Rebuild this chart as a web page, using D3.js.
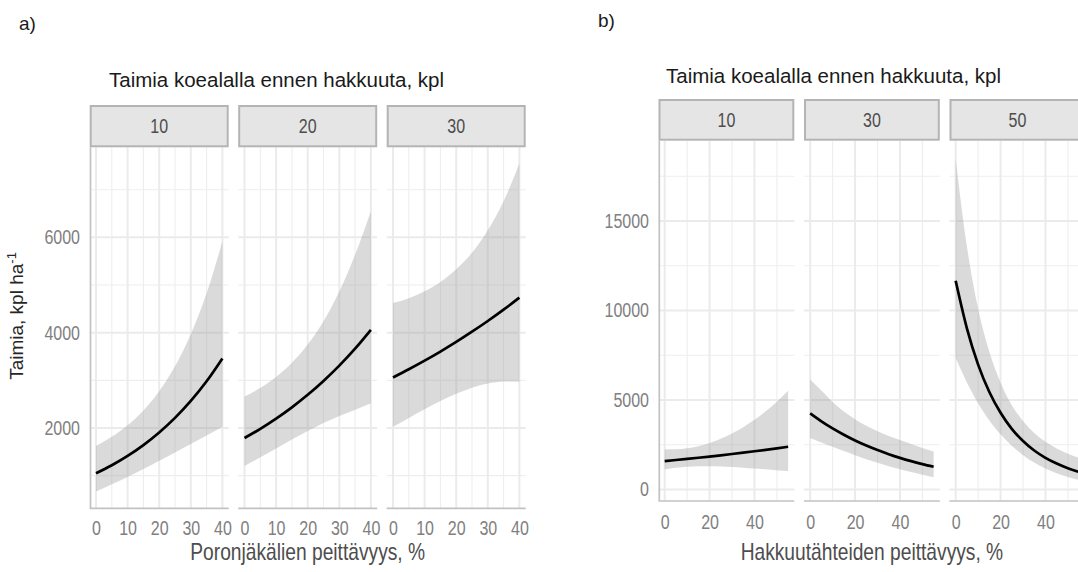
<!DOCTYPE html>
<html><head><meta charset="utf-8">
<script src="https://cdn.jsdelivr.net/npm/d3@7"></script>
<style>body{margin:0;background:#fff} svg{display:block}</style>
</head><body>
<svg id="chart" width="1078" height="572"></svg>
<script>
// ---------- data ----------
const facetTitle = "Taimia koealalla ennen hakkuuta, kpl";
const yTitle = "Taimia, kpl ha";
const yTitleSup = "-1";

// a) Poronjäkälien peittävyys
const leftTag = "a)";
const leftXTitle = "Poronjäkälien peittävyys, %";
const leftFacets = ["10", "20", "30"];
const leftX = [0, 5, 10, 15, 20, 25, 30, 35, 40];
const leftFit10 = [1050, 1219, 1415, 1642, 1906, 2212, 2568, 2980, 3460];
const leftHigh10 = [1622, 1815, 2057, 2368, 2771, 3294, 3968, 4825, 5913];
const leftLow10 = [665, 819, 973, 1139, 1311, 1486, 1662, 1841, 2025];
const leftFit20 = [1790, 1983, 2197, 2434, 2696, 2987, 3309, 3665, 4060];
const leftHigh20 = [2660, 2842, 3071, 3369, 3750, 4239, 4864, 5633, 6549];
const leftLow20 = [1205, 1384, 1572, 1759, 1938, 2105, 2251, 2385, 2517];
const leftFit30 = [3060, 3232, 3413, 3604, 3806, 4020, 4245, 4483, 4735];
const leftHigh30 = [4621, 4725, 4867, 5064, 5332, 5676, 6147, 6756, 7548];
const leftLow30 = [2026, 2211, 2393, 2565, 2717, 2847, 2932, 2975, 2971];
const leftXTicks = [0, 10, 20, 30, 40];
const leftXMinor = [5, 15, 25, 35];
const leftYTicks = [2000, 4000, 6000];
const leftYMinor = [1000, 3000, 5000, 7000];
const leftXLimits = [-2, 42];
const leftYLimits = [315, 7890];

// b) Hakkuutähteiden peittävyys
const rightTag = "b)";
const rightXTitle = "Hakkuutähteiden peittävyys, %";
const rightFacets = ["10", "30", "50"];
const rightX = [0, 5, 10, 15, 20, 25, 30, 35, 40, 45, 50, 55];
const rightFit10 = [1590, 1650, 1712, 1777, 1844, 1914, 1986, 2061, 2139, 2220, 2303, 2390];
const rightHigh10 = [2243, 2247, 2304, 2420, 2602, 2840, 3136, 3487, 3897, 4369, 4905, 5519];
const rightLow10 = [1127, 1211, 1272, 1305, 1307, 1290, 1258, 1218, 1174, 1128, 1081, 1035];
const rightFit30 = [4257, 3815, 3419, 3064, 2745, 2460, 2205, 1976, 1770, 1586, 1422, 1274];
const rightHigh30 = [6150, 5528, 4893, 4366, 3928, 3565, 3257, 2994, 2765, 2540, 2320, 2120];
const rightLow30 = [2882, 2633, 2389, 2150, 1918, 1698, 1493, 1304, 1133, 980, 830, 690];
const rightFit50 = [11665, 9010, 6980, 5450, 4290, 3390, 2710, 2180, 1770, 1450, 1190, 980];
const rightHigh50 = [18480, 13580, 10110, 7700, 5970, 4715, 3830, 3160, 2670, 2300, 2000, 1770];
const rightLow50 = [7360, 5980, 4820, 3860, 3085, 2440, 1920, 1505, 1175, 915, 705, 530];
const rightXTicks = [0, 20, 40];
const rightXMinor = [10, 30, 50];
const rightYTicks = [0, 5000, 10000, 15000];
const rightYMinor = [2500, 7500, 12500, 17500];
const rightXLimits = [-2.75, 57.75];
const rightYLimits = [-640, 19490];

// ---------- styles ----------
const SANS = "'Liberation Sans',Arial,sans-serif";
const NARROW_FACTOR = 0.8;
const svg = d3.select("#chart");

// horizontally condense text (narrow font look)
function condense(sel) {
  sel.each(function () {
    const len = this.getComputedTextLength();
    d3.select(this).attr("textLength", len * NARROW_FACTOR).attr("lengthAdjust", "spacingAndGlyphs");
  });
}

function drawChart(o) {
  const g = svg.append("g");
  const y = d3.scaleLinear().domain(o.yLimits).range([o.bottom, o.panelTop]);

  g.append("text").attr("x", o.tagX).attr("y", o.tagY).text(o.tag)
    .attr("font-family", SANS).attr("font-size", 19).attr("fill", "#1a1a1a");
  g.append("text").attr("x", o.titleX).attr("y", o.titleY).text(facetTitle)
    .attr("font-family", SANS).attr("font-size", 20.5).attr("fill", "#1a1a1a");

  o.facets.forEach((f, i) => {
    const x0 = o.left + i * (o.panelW + o.gap);
    const x = d3.scaleLinear().domain(o.xLimits).range([x0, x0 + o.panelW]);
    const pg = g.append("g");

    // grid
    pg.selectAll(".ymin").data(o.yMinor).join("line")
      .attr("x1", x0).attr("x2", x0 + o.panelW).attr("y1", d => y(d)).attr("y2", d => y(d))
      .attr("stroke", "#eeeeee").attr("stroke-width", 1.1);
    pg.selectAll(".xmin").data(o.xMinor).join("line")
      .attr("x1", d => x(d)).attr("x2", d => x(d)).attr("y1", o.panelTop).attr("y2", o.bottom)
      .attr("stroke", "#eeeeee").attr("stroke-width", 1.1);
    pg.selectAll(".ymaj").data(o.yTicks).join("line")
      .attr("x1", x0).attr("x2", x0 + o.panelW).attr("y1", d => y(d)).attr("y2", d => y(d))
      .attr("stroke", "#ebebeb").attr("stroke-width", 2);
    pg.selectAll(".xmaj").data(o.xTicks).join("line")
      .attr("x1", d => x(d)).attr("x2", d => x(d)).attr("y1", o.panelTop).attr("y2", o.bottom)
      .attr("stroke", "#ebebeb").attr("stroke-width", 2);

    const pts = o.xs.map((v, k) => ({x: v, fit: o.fit[i][k], lo: o.lo[i][k], hi: o.hi[i][k]}));
    const area = d3.area().curve(d3.curveMonotoneX)
      .x(d => x(d.x)).y0(d => y(d.lo)).y1(d => y(d.hi));
    const line = d3.line().curve(d3.curveMonotoneX).x(d => x(d.x)).y(d => y(d.fit));
    pg.append("path").attr("d", area(pts)).attr("fill", "#999999").attr("fill-opacity", 0.36);
    pg.append("path").attr("d", line(pts)).attr("fill", "none").attr("stroke", "#000")
      .attr("stroke-width", 2.7);

    // axis lines
    pg.append("line").attr("x1", x0).attr("x2", x0 + o.panelW).attr("y1", o.bottom).attr("y2", o.bottom)
      .attr("stroke", "#c2c2c2").attr("stroke-width", 1.7);
    if (i === 0) {
      pg.append("line").attr("x1", x0 + 0.8).attr("x2", x0 + 0.8).attr("y1", o.panelTop).attr("y2", o.bottom)
        .attr("stroke", "#c2c2c2").attr("stroke-width", 1.7);
    }

    const gx = pg.append("g").attr("transform", `translate(0,${o.bottom})`)
      .call(d3.axisBottom(x).tickValues(o.xTicks).tickSize(0).tickPadding(o.xPad).tickFormat(d3.format("d")));
    gx.select(".domain").remove();
    gx.selectAll("text").attr("font-family", SANS).attr("font-size", 20).attr("fill", "#808080").call(condense);

    if (i === 0) {
      const gy = pg.append("g").attr("transform", `translate(${x0},0)`)
        .call(d3.axisLeft(y).tickValues(o.yTicks).tickSize(0).tickPadding(o.yPad).tickFormat(d3.format("d")));
      gy.select(".domain").remove();
      gy.selectAll("text").attr("font-family", SANS).attr("font-size", 20).attr("fill", "#808080").call(condense);
    }

    // strip
    pg.append("rect").attr("x", x0 + 1).attr("y", o.stripTop + 1)
      .attr("width", o.panelW - 2).attr("height", o.panelTop - o.stripTop - 2)
      .attr("fill", "#e5e5e5").attr("stroke", "#b4b4b4").attr("stroke-width", 2);
    pg.append("text").attr("x", x0 + o.panelW / 2).attr("y", (o.stripTop + o.panelTop) / 2 + 7)
      .attr("text-anchor", "middle").text(f)
      .attr("font-family", SANS).attr("font-size", 20).attr("fill", "#4d4d4d").call(condense);
  });

  const right = o.left + 3 * o.panelW + 2 * o.gap;
  g.append("text").attr("x", (o.left + right) / 2).attr("y", o.xTitleY)
    .attr("text-anchor", "middle").text(o.xTitle)
    .attr("font-family", SANS).attr("font-size", 24).attr("fill", "#4d4d4d").call(condense);
}

drawChart({
  tag: leftTag, tagX: 19, tagY: 30, titleX: 109, titleY: 87,
  left: 89.7, panelW: 139, gap: 9.5, stripTop: 105, panelTop: 147.3, bottom: 508.3,
  xLimits: leftXLimits, yLimits: leftYLimits,
  xTicks: leftXTicks, xMinor: leftXMinor, yTicks: leftYTicks, yMinor: leftYMinor,
  facets: leftFacets, xs: leftX,
  fit: [leftFit10, leftFit20, leftFit30], lo: [leftLow10, leftLow20, leftLow30], hi: [leftHigh10, leftHigh20, leftHigh30],
  xPad: 13, yPad: 9.7, xTitle: leftXTitle, xTitleY: 560
});

drawChart({
  tag: rightTag, tagX: 598, tagY: 27, titleX: 666, titleY: 83,
  left: 658.5, panelW: 135.8, gap: 9.7, stripTop: 99, panelTop: 140.7, bottom: 501,
  xLimits: rightXLimits, yLimits: rightYLimits,
  xTicks: rightXTicks, xMinor: rightXMinor, yTicks: rightYTicks, yMinor: rightYMinor,
  facets: rightFacets, xs: rightX,
  fit: [rightFit10, rightFit30, rightFit50], lo: [rightLow10, rightLow30, rightLow50], hi: [rightHigh10, rightHigh30, rightHigh50],
  xPad: 13.7, yPad: 9.5, xTitle: rightXTitle, xTitleY: 560
});

const yt = svg.append("text").attr("transform", "translate(23,316) rotate(-90)")
  .attr("text-anchor", "middle").attr("font-family", SANS).attr("font-size", 19).attr("fill", "#262626");
yt.append("tspan").text(yTitle);
yt.append("tspan").attr("baseline-shift", "super").attr("font-size", 13).text(yTitleSup);
</script>
</body></html>
